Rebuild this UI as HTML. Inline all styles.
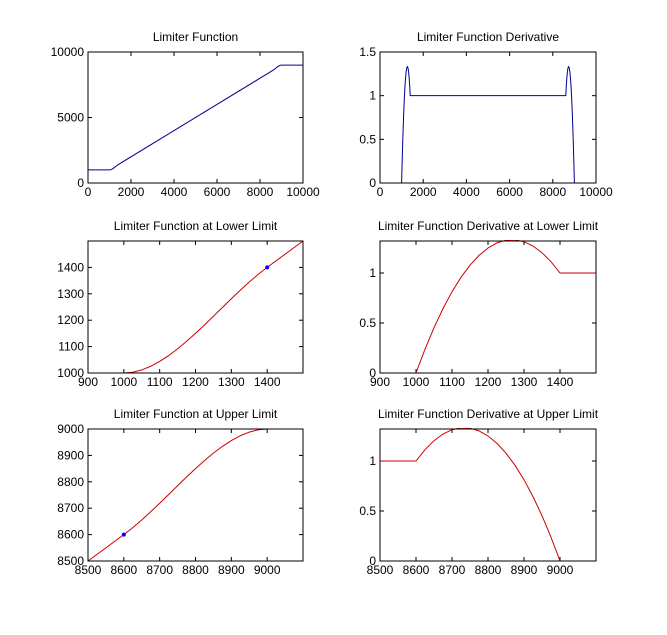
<!DOCTYPE html>
<html><head><meta charset="utf-8"><style>
body{margin:0;background:#fff;}
svg text{font-family:"Liberation Sans",Arial,sans-serif;font-size:12px;fill:#000;}
</style></head><body>
<svg id="fig" width="667" height="630" xmlns="http://www.w3.org/2000/svg"></svg>
<script>
// Data
const fX = [0,1000,1050,1100,1150,1200,1250,1300,1350,1400,8600,8650,8700,8750,8800,8850,8900,8950,9000,10000];
const fY = [1000,1000,1011.7,1043.8,1091.4,1150,1214.8,1281.3,1344.5,1400,8600,8655.5,8718.7,8785.2,8850,8908.6,8956.2,8988.3,9000,9000];
const dX = [0,1000,1025,1050,1075,1100,1125,1150,1175,1200,1225,1250,1275,1300,1325,1350,1375,1400,8600,8625,8650,8675,8700,8725,8750,8775,8800,8825,8850,8875,8900,8925,8950,8975,9000,10000];
const dY = [0,0,0.238,0.453,0.644,0.813,0.957,1.078,1.176,1.25,1.301,1.328,1.332,1.313,1.270,1.203,1.113,1,1,1.113,1.203,1.270,1.313,1.332,1.328,1.301,1.25,1.176,1.078,0.957,0.813,0.644,0.453,0.238,0,0];
const lowX = [1000,1025,1050,1075,1100,1125,1150,1175,1200,1225,1250,1275,1300,1325,1350,1375,1400,1500];
const lowF = [1000,1003.0,1011.7,1025.5,1043.8,1065.9,1091.4,1119.6,1150,1181.9,1214.8,1248.1,1281.3,1313.6,1344.5,1373.5,1400,1500];
const lowD = [0,0.238,0.453,0.644,0.813,0.957,1.078,1.176,1.25,1.301,1.328,1.332,1.313,1.270,1.203,1.113,1,1];
const upX = [8500,8600,8625,8650,8675,8700,8725,8750,8775,8800,8825,8850,8875,8900,8925,8950,8975,9000];
const upF = [8500,8600,8626.5,8655.5,8686.4,8718.7,8751.9,8785.2,8818.1,8850,8880.4,8908.6,8934.1,8956.2,8974.5,8988.3,8997.0,9000];
const upD = [1,1,1.113,1.203,1.270,1.313,1.332,1.328,1.301,1.25,1.176,1.078,0.957,0.813,0.644,0.453,0.238,0];
const lowPoint = [1400,1400];
const upPoint = [8600,8600];
const ticks10k = [0,2000,4000,6000,8000,10000];
const ticksF10k = [0,5000,10000];
const ticksD = [0,0.5,1,1.5];
const ticksLowX = [900,1000,1100,1200,1300,1400];
const ticksLowY = [1000,1100,1200,1300,1400];
const ticksUpX = [8500,8600,8700,8800,8900,9000];
const ticksUpY = [8500,8600,8700,8800,8900,9000];
const ticksD2 = [0,0.5,1];

const NS="http://www.w3.org/2000/svg";
const svg=document.getElementById('fig');
function mk(tag,attrs,parent){const e=document.createElementNS(NS,tag);for(const k in attrs)e.setAttribute(k,attrs[k]);(parent||svg).appendChild(e);return e;}

function panel(name,box,xd,yd,xt,yt,title,xs,ys,color,pt){
  const [L,T,R,B]=box;
  const g=mk('g',{});
  
  
  const sx=v=>L+(v-xd[0])/(xd[1]-xd[0])*(R-L);
  const sy=v=>B-(v-yd[0])/(yd[1]-yd[0])*(B-T);
  const clipId='c'+name;
  const cp=mk('clipPath',{id:clipId},g);mk('rect',{x:L,y:T-1,width:R-L,height:B-T+2},cp);
  const t=mk('text',{x:(L+R)/2,y:T-11,'text-anchor':'middle'},g);t.textContent=title;
  
  xt.forEach(v=>{const x=sx(v);
    mk('line',{x1:x,y1:B,x2:x,y2:B-4,stroke:'#000'},g);mk('line',{x1:x,y1:T,x2:x,y2:T+4,stroke:'#000'},g);
    const l=mk('text',{x:x,y:B+13,'text-anchor':'middle'},g);l.textContent=v;
    });
  yt.forEach(v=>{const y=sy(v);
    mk('line',{x1:L,y1:y,x2:L+4,y2:y,stroke:'#000'},g);mk('line',{x1:R,y1:y,x2:R-4,y2:y,stroke:'#000'},g);
    const l=mk('text',{x:L-4,y:y+4,'text-anchor':'end'},g);l.textContent=v;
    });
  const p=mk('polyline',{points:xs.map((x,i)=>sx(x)+','+sy(ys[i])).join(' '),fill:'none',stroke:color,'stroke-width':1,'clip-path':'url(#'+clipId+')'},g);
  
  if(pt){const c=mk('circle',{cx:sx(pt[0]),cy:sy(pt[1]),r:2,fill:'#00f'},g);
    }
  const fr=mk('rect',{x:L,y:T,width:R-L,height:B-T,fill:'none',stroke:'#000'},g);
  
}
const LC=[88,303],RC=[380,596],R1=[52,183],R2=[241,373],R3=[429,561];
panel('limiter-function',[LC[0],R1[0],LC[1],R1[1]],[0,10000],[0,10000],ticks10k,ticksF10k,'Limiter Function',fX,fY,'#00008f');
panel('limiter-derivative',[RC[0],R1[0],RC[1],R1[1]],[0,10000],[0,1.5],ticks10k,ticksD,'Limiter Function Derivative',dX,dY,'#00008f');
panel('lower-function',[LC[0],R2[0],LC[1],R2[1]],[900,1500],[1000,1500],ticksLowX,ticksLowY,'Limiter Function at Lower Limit',lowX,lowF,'#cc0000',lowPoint);
panel('lower-derivative',[RC[0],R2[0],RC[1],R2[1]],[900,1500],[0,1.32],ticksLowX,ticksD2,'Limiter Function Derivative at Lower Limit',lowX,lowD,'#cc0000');
panel('upper-function',[LC[0],R3[0],LC[1],R3[1]],[8500,9100],[8500,9000],ticksUpX,ticksUpY,'Limiter Function at Upper Limit',upX,upF,'#cc0000',upPoint);
panel('upper-derivative',[RC[0],R3[0],RC[1],R3[1]],[8500,9100],[0,1.32],ticksUpX,ticksD2,'Limiter Function Derivative at Upper Limit',upX,upD,'#cc0000');
</script>
</body></html>
